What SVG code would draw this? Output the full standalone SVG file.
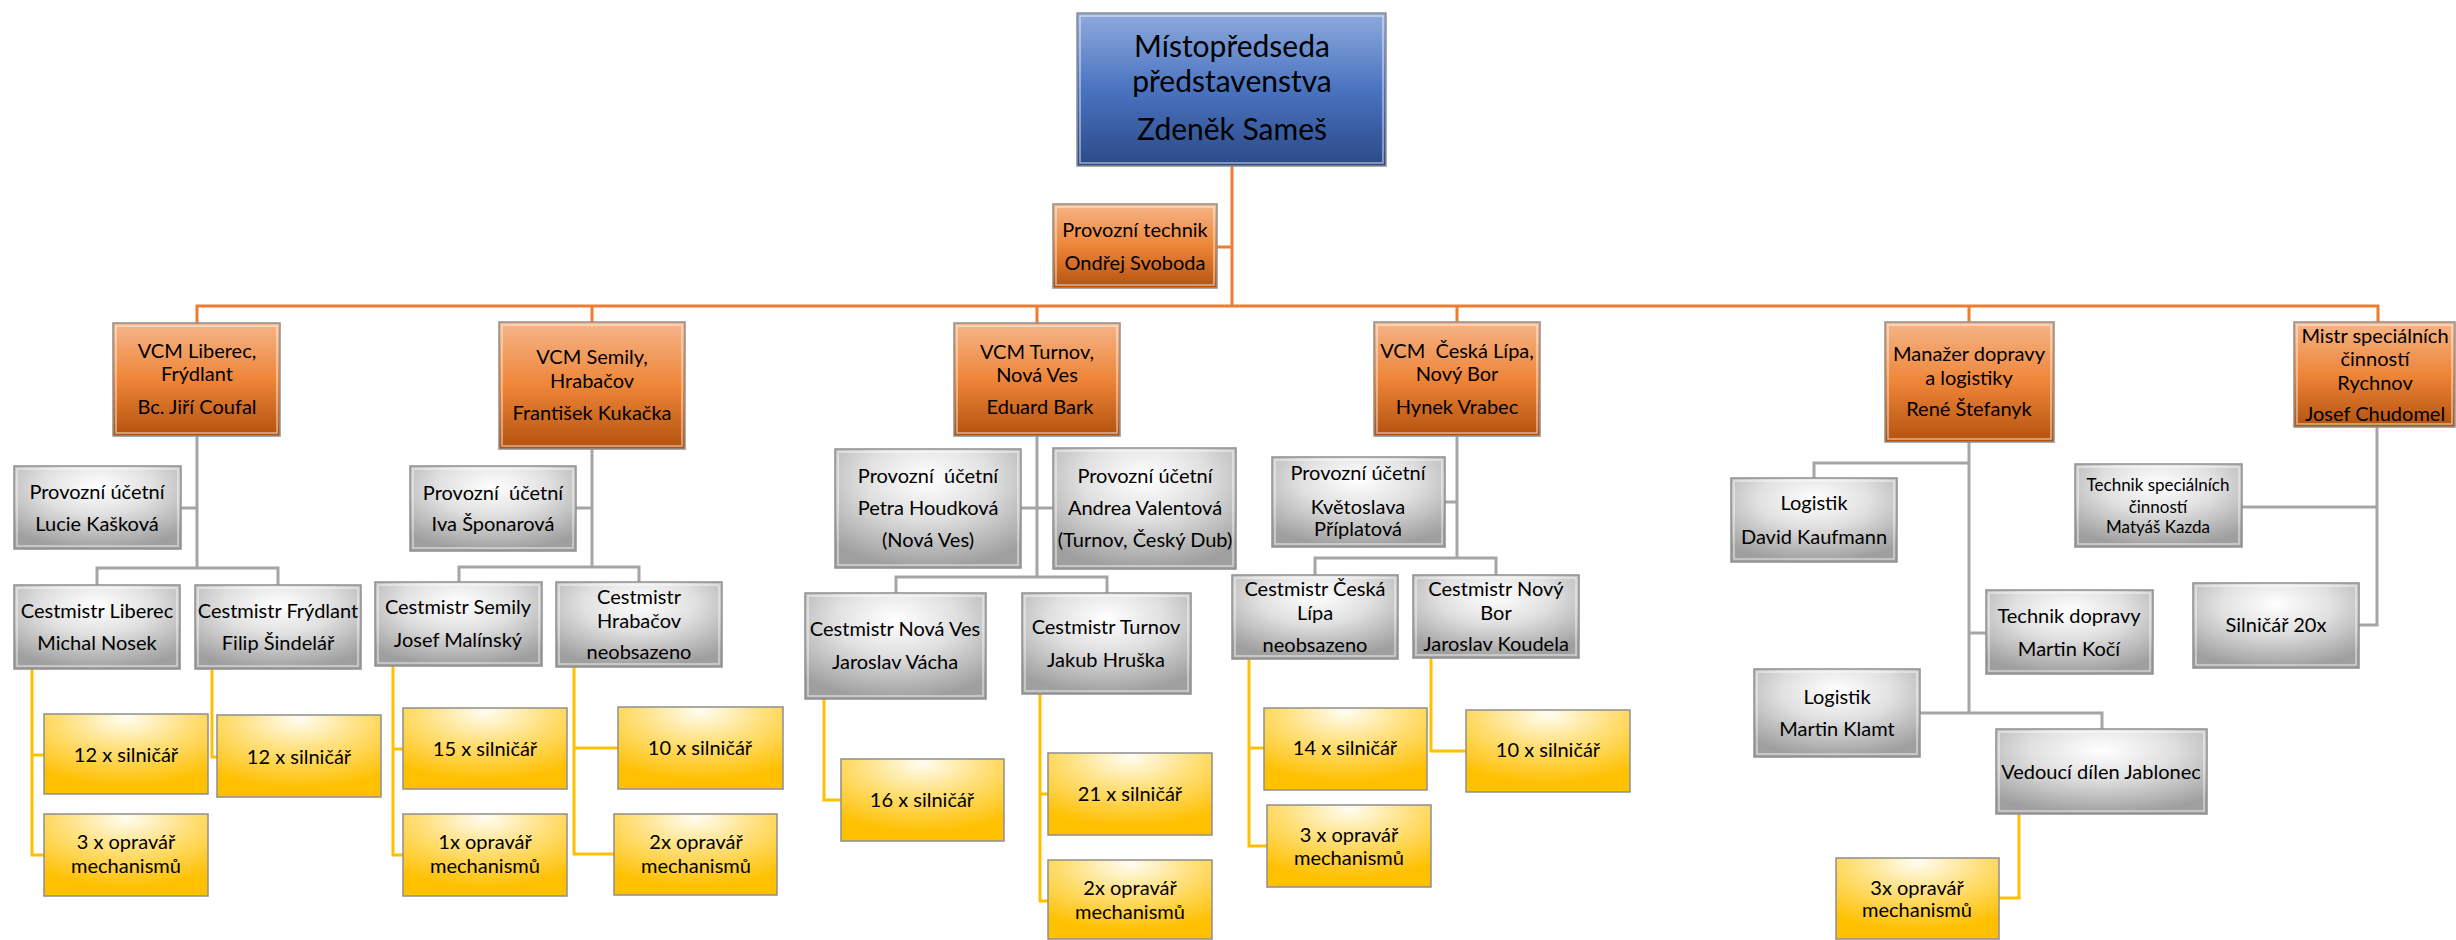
<svg xmlns="http://www.w3.org/2000/svg" width="2456" height="940" viewBox="0 0 2456 940">
<defs>
<linearGradient id="gBlue" x1="0" y1="0" x2="0" y2="1"><stop offset="0" stop-color="#8eaadc"/><stop offset="0.5" stop-color="#4a73c0"/><stop offset="1" stop-color="#2b4a88"/></linearGradient>
<linearGradient id="gOrange" x1="0" y1="0" x2="0" y2="1"><stop offset="0" stop-color="#f5b589"/><stop offset="0.5" stop-color="#ee8538"/><stop offset="1" stop-color="#b3520e"/></linearGradient>
<radialGradient id="gGray" cx="0.5" cy="0.25" r="0.75"><stop offset="0" stop-color="#ffffff"/><stop offset="0.45" stop-color="#e0e0e0"/><stop offset="1" stop-color="#9f9f9f"/></radialGradient>
<radialGradient id="gYellow" cx="0.5" cy="0.05" r="0.85"><stop offset="0" stop-color="#fffdf2"/><stop offset="0.45" stop-color="#ffe07c"/><stop offset="1" stop-color="#ffc000"/></radialGradient>
</defs>
<style>
.box{stroke:#8f8f8f;stroke-width:1.5}
.blue{fill:url(#gBlue)}
.org{fill:url(#gOrange)}
.gray{fill:url(#gGray)}
.yel{fill:url(#gYellow)}
.hl{fill:none;stroke:#ffffff;stroke-opacity:0.55;stroke-width:1.5}
text{font-family:Lato,"Liberation Sans",sans-serif;font-size:20px;fill:#000;text-anchor:middle}
.big{font-size:30px}
.sm{font-size:17px}
.c{fill:none;stroke-width:3}
.co{stroke:#ed7d31}
.cg{stroke:#a5a5a5}
.cy{stroke:#ffc000}
</style>
<rect width="2456" height="940" fill="#ffffff"/>
<g id="connectors">
<path class="c co" d="M1232,166 V306 M1217,247 H1232 M197,323 V306 H2378 V322 M592,306 V322 M1037,306 V323 M1457,306 V322 M1969,306 V322"/>
<path class="c cg" d="M197,436 V568 M181,508 H197 M97,585 V568 H278 V585"/>
<path class="c cg" d="M592,449 V567 M576,508 H592 M459,582 V567 H639 V582"/>
<path class="c cg" d="M1037,436 V577 M1021,508 H1053 M896,593 V577 H1107 V593"/>
<path class="c cg" d="M1457,436 V558 M1445,502 H1457 M1315,575 V558 H1496 V575"/>
<path class="c cg" d="M1969,442 V713 M1814,478 V463 H1969 M1969,633 H1986 M1920,713 H2102 V729"/>
<path class="c cg" d="M2377,427 V625 H2359 M2242,507 H2377"/>
<path class="c cy" d="M32,669 V855 H44 M32,755 H44 M212,669 V757 H217"/>
<path class="c cy" d="M393,666 V855 H403 M393,749 H403 M574,667 V854 H614 M574,748 H618"/>
<path class="c cy" d="M824,699 V800 H841 M1040,694 V901 H1048 M1040,794 H1048"/>
<path class="c cy" d="M1249,659 V846 H1267 M1249,748 H1264 M1431,658 V751 H1466"/>
<path class="c cy" d="M2019,814 V898 H1999"/>
</g>
<g id="n_mistopredseda"><rect class="box blue" x="1077" y="13" width="309" height="153"/><rect class="hl" x="1080" y="16" width="303" height="147"/><text class="big" x="1232" y="57">Místopředseda</text><text class="big" x="1232" y="92">představenstva</text><text class="big" x="1232" y="140">Zdeněk Sameš</text></g>
<g id="n_provozni_technik"><rect class="box org" x="1053" y="204" width="164" height="84"/><rect class="hl" x="1056" y="207" width="158" height="78"/><text x="1135" y="237">Provozní technik</text><text x="1135" y="270">Ondřej Svoboda</text></g>

<g id="n_vcm_liberec"><rect class="box org" x="113" y="323" width="167" height="113"/><rect class="hl" x="116" y="326" width="161" height="107"/><text x="197" y="358">VCM Liberec,</text><text x="197" y="381">Frýdlant</text><text x="197" y="414">Bc. Jiří Coufal</text></g>
<g id="n_ucetni_kaskova"><rect class="box gray" x="14" y="466" width="167" height="83"/><rect class="hl" x="17" y="469" width="161" height="77"/><text x="97" y="499">Provozní účetní</text><text x="97" y="531">Lucie Kašková</text></g>
<g id="n_cest_liberec"><rect class="box gray" x="14" y="585" width="166" height="84"/><rect class="hl" x="17" y="588" width="160" height="78"/><text x="97" y="618">Cestmistr Liberec</text><text x="97" y="650">Michal Nosek</text></g>
<g id="n_cest_frydlant"><rect class="box gray" x="195" y="585" width="166" height="84"/><rect class="hl" x="198" y="588" width="160" height="78"/><text x="278" y="618">Cestmistr Frýdlant</text><text x="278" y="650">Filip Šindelář</text></g>
<g id="n_lib_silnicar"><rect class="box yel" x="44" y="714" width="164" height="80"/><text x="126" y="762">12 x silničář</text></g>
<g id="n_lib_opravar"><rect class="box yel" x="44" y="814" width="164" height="82"/><text x="126" y="849">3 x opravář</text><text x="126" y="873">mechanismů</text></g>
<g id="n_fry_silnicar"><rect class="box yel" x="217" y="715" width="164" height="82"/><text x="299" y="764">12 x silničář</text></g>

<g id="n_vcm_semily"><rect class="box org" x="499" y="322" width="186" height="127"/><rect class="hl" x="502" y="325" width="180" height="121"/><text x="592" y="364">VCM Semily,</text><text x="592" y="388">Hrabačov</text><text x="592" y="420">František Kukačka</text></g>
<g id="n_ucetni_sponarova"><rect class="box gray" x="410" y="466" width="166" height="85"/><rect class="hl" x="413" y="469" width="160" height="79"/><text x="493" y="500">Provozní&#160; účetní</text><text x="493" y="531">Iva Šponarová</text></g>
<g id="n_cest_semily"><rect class="box gray" x="375" y="582" width="167" height="84"/><rect class="hl" x="378" y="585" width="161" height="78"/><text x="458" y="614">Cestmistr Semily</text><text x="458" y="647">Josef Malínský</text></g>
<g id="n_cest_hrabacov"><rect class="box gray" x="556" y="582" width="166" height="85"/><rect class="hl" x="559" y="585" width="160" height="79"/><text x="639" y="604">Cestmistr</text><text x="639" y="628">Hrabačov</text><text x="639" y="659">neobsazeno</text></g>
<g id="n_sem_silnicar"><rect class="box yel" x="403" y="708" width="164" height="81"/><text x="485" y="756">15 x silničář</text></g>
<g id="n_sem_opravar"><rect class="box yel" x="403" y="814" width="164" height="82"/><text x="485" y="849">1x opravář</text><text x="485" y="873">mechanismů</text></g>
<g id="n_hra_silnicar"><rect class="box yel" x="618" y="707" width="165" height="82"/><text x="700" y="755">10 x silničář</text></g>
<g id="n_hra_opravar"><rect class="box yel" x="614" y="814" width="163" height="81"/><text x="696" y="849">2x opravář</text><text x="696" y="873">mechanismů</text></g>

<g id="n_vcm_turnov"><rect class="box org" x="954" y="323" width="166" height="113"/><rect class="hl" x="957" y="326" width="160" height="107"/><text x="1037" y="359">VCM Turnov,</text><text x="1037" y="382">Nová Ves</text><text x="1040" y="414">Eduard Bark</text></g>
<g id="n_ucetni_houdkova"><rect class="box gray" x="835" y="449" width="186" height="119"/><rect class="hl" x="838" y="452" width="180" height="113"/><text x="928" y="483">Provozní&#160; účetní</text><text x="928" y="515">Petra Houdková</text><text x="928" y="547">(Nová Ves)</text></g>
<g id="n_ucetni_valentova"><rect class="box gray" x="1053" y="448" width="183" height="121"/><rect class="hl" x="1056" y="451" width="177" height="115"/><text x="1145" y="483">Provozní účetní</text><text x="1145" y="515">Andrea Valentová</text><text x="1145" y="547">(Turnov, Český Dub)</text></g>
<g id="n_cest_novaves"><rect class="box gray" x="805" y="593" width="181" height="106"/><rect class="hl" x="808" y="596" width="175" height="100"/><text x="895" y="636">Cestmistr Nová Ves</text><text x="895" y="669">Jaroslav Vácha</text></g>
<g id="n_cest_turnov"><rect class="box gray" x="1022" y="593" width="169" height="101"/><rect class="hl" x="1025" y="596" width="163" height="95"/><text x="1106" y="634">Cestmistr Turnov</text><text x="1106" y="667">Jakub Hruška</text></g>
<g id="n_nv_silnicar"><rect class="box yel" x="841" y="759" width="163" height="82"/><text x="922" y="807">16 x silničář</text></g>
<g id="n_tur_silnicar"><rect class="box yel" x="1048" y="753" width="164" height="82"/><text x="1130" y="801">21 x silničář</text></g>
<g id="n_tur_opravar"><rect class="box yel" x="1048" y="860" width="164" height="79"/><text x="1130" y="895">2x opravář</text><text x="1130" y="919">mechanismů</text></g>

<g id="n_vcm_ceskalipa"><rect class="box org" x="1374" y="322" width="166" height="114"/><rect class="hl" x="1377" y="325" width="160" height="108"/><text x="1457" y="358">VCM&#160; Česká Lípa,</text><text x="1457" y="381">Nový Bor</text><text x="1457" y="414">Hynek Vrabec</text></g>
<g id="n_ucetni_priplatova"><rect class="box gray" x="1272" y="457" width="173" height="90"/><rect class="hl" x="1275" y="460" width="167" height="84"/><text x="1358" y="480">Provozní účetní</text><text x="1358" y="514">Květoslava</text><text x="1358" y="536">Příplatová</text></g>
<g id="n_cest_ceskalipa"><rect class="box gray" x="1232" y="575" width="166" height="84"/><rect class="hl" x="1235" y="578" width="160" height="78"/><text x="1315" y="596">Cestmistr Česká</text><text x="1315" y="620">Lípa</text><text x="1315" y="652">neobsazeno</text></g>
<g id="n_cest_novybor"><rect class="box gray" x="1413" y="575" width="166" height="83"/><rect class="hl" x="1416" y="578" width="160" height="77"/><text x="1496" y="596">Cestmistr Nový</text><text x="1496" y="620">Bor</text><text x="1496" y="651">Jaroslav Koudela</text></g>
<g id="n_cl_silnicar"><rect class="box yel" x="1264" y="708" width="163" height="82"/><text x="1345" y="755">14 x silničář</text></g>
<g id="n_cl_opravar"><rect class="box yel" x="1267" y="805" width="164" height="82"/><text x="1349" y="842">3 x opravář</text><text x="1349" y="865">mechanismů</text></g>
<g id="n_nb_silnicar"><rect class="box yel" x="1466" y="710" width="164" height="82"/><text x="1548" y="757">10 x silničář</text></g>

<g id="n_manazer"><rect class="box org" x="1885" y="322" width="169" height="120"/><rect class="hl" x="1888" y="325" width="163" height="114"/><text x="1969" y="361">Manažer dopravy</text><text x="1969" y="385">a logistiky</text><text x="1969" y="416">René Štefanyk</text></g>
<g id="n_logistik_kaufmann"><rect class="box gray" x="1731" y="478" width="166" height="84"/><rect class="hl" x="1734" y="481" width="160" height="78"/><text x="1814" y="510">Logistik</text><text x="1814" y="544">David Kaufmann</text></g>
<g id="n_technik_dopravy"><rect class="box gray" x="1986" y="590" width="167" height="84"/><rect class="hl" x="1989" y="593" width="161" height="78"/><text x="2069" y="623">Technik dopravy</text><text x="2069" y="656">Martin Kočí</text></g>
<g id="n_logistik_klamt"><rect class="box gray" x="1754" y="669" width="166" height="88"/><rect class="hl" x="1757" y="672" width="160" height="82"/><text x="1837" y="704">Logistik</text><text x="1837" y="736">Martin Klamt</text></g>
<g id="n_vedouci_dilen"><rect class="box gray" x="1996" y="729" width="211" height="85"/><rect class="hl" x="1999" y="732" width="205" height="79"/><text x="2101" y="779">Vedoucí dílen Jablonec</text></g>
<g id="n_dil_opravar"><rect class="box yel" x="1836" y="858" width="163" height="81"/><text x="1917" y="895">3x opravář</text><text x="1917" y="917">mechanismů</text></g>

<g id="n_mistr"><rect class="box org" x="2294" y="322" width="161" height="105"/><rect class="hl" x="2297" y="325" width="155" height="99"/><text x="2375" y="343">Mistr speciálních</text><text x="2375" y="366">činností</text><text x="2375" y="390">Rychnov</text><text x="2375" y="421">Josef Chudomel</text></g>
<g id="n_technik_spec"><rect class="box gray" x="2075" y="464" width="167" height="83"/><rect class="hl" x="2078" y="467" width="161" height="77"/><text class="sm" x="2158" y="491">Technik speciálních</text><text class="sm" x="2158" y="513">činností</text><text class="sm" x="2158" y="533">Matyáš Kazda</text></g>
<g id="n_silnicar20"><rect class="box gray" x="2193" y="583" width="166" height="85"/><rect class="hl" x="2196" y="586" width="160" height="79"/><text x="2276" y="632">Silničář 20x</text></g>
</svg>
